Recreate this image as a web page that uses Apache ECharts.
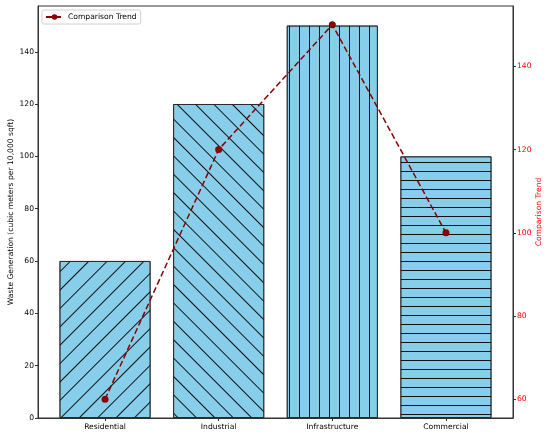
<!DOCTYPE html>
<html>
<head>
<meta charset="utf-8">
<script src="https://cdn.jsdelivr.net/npm/echarts@6/dist/echarts.min.js"></script>
<style>
  html, body { margin: 0; padding: 0; background: #fff; }
  #chart { width: 550px; height: 438px; }
</style>
</head>
<body>
<div id="chart"></div>
<script>
const categories = ['Residential', 'Industrial', 'Infrastructure', 'Commercial'];
const wasteValues = [60, 120, 150, 100];
const trendValues = [60, 120, 150, 100];
const leftTicks = [0, 20, 40, 60, 80, 100, 120, 140];
const rightTicks = [60, 80, 100, 120, 140];
const catPositions = [0, 1, 2, 3];

// hatch styles, one per bar (matplotlib-ish: '/', '\\', '|', '-')
function hatch(rot, gap) {
  return {
    symbol: 'rect', symbolSize: 1, color: '#111',
    dashArrayX: [1, 0], dashArrayY: [1, gap], rotation: rot
  };
}
const hatches = [
  hatch(-Math.PI / 4, 12),
  hatch(Math.PI / 4, 12),
  hatch(Math.PI / 2, 8.2),
  hatch(0, 8)
];

const font = 'DejaVu Sans';
const axisColor = '#333';

let myChart = echarts.init(document.getElementById('chart'), null, { renderer: 'canvas' });
let option = {
  animation: false,
  textStyle: { fontFamily: font },
  grid: {
    left: 38, right: 37, top: 6, bottom: 20,
    outerBoundsMode: 'none', containLabel: false,
    show: true, borderColor: axisColor, borderWidth: 1, backgroundColor: 'transparent'
  },
  legend: {
    left: 42, top: 10,
    data: ['Comparison Trend'],
    borderColor: '#d0d0d0', borderWidth: 1, borderRadius: 2,
    padding: [3, 4, 3, 3],
    itemWidth: 17, itemHeight: 7, itemGap: 4,
    textStyle: { fontFamily: font, fontSize: 7.6, color: '#000' }
  },
  xAxis: {
    type: 'value', min: -0.59, max: 3.59,
    splitLine: { show: false },
    axisLine: { show: true, onZero: false, lineStyle: { color: axisColor, width: 1 } },
    axisTick: { show: true, length: 3, customValues: catPositions, lineStyle: { color: axisColor } },
    axisLabel: {
      customValues: catPositions,
      formatter: v => categories[Math.round(v)],
      fontFamily: font, fontSize: 7.6, color: '#000', margin: 5
    }
  },
  yAxis: [
    {
      type: 'value', min: 0, max: 157.5, position: 'left',
      name: 'Waste Generation (cubic meters per 10,000 sqft)',
      nameLocation: 'middle', nameRotate: 90, nameGap: 23, nameMoveOverlap: false,
      nameTextStyle: { fontFamily: font, fontSize: 7.6, color: '#000' },
      splitLine: { show: false },
      axisLine: { show: true, onZero: false, lineStyle: { color: axisColor, width: 1 } },
      axisTick: { show: true, length: 3, customValues: leftTicks, lineStyle: { color: axisColor } },
      axisLabel: { customValues: leftTicks, fontFamily: font, fontSize: 7.6, color: '#000', margin: 4 }
    },
    {
      type: 'value', min: 55.5, max: 154.5, position: 'right',
      name: 'Comparison Trend',
      nameLocation: 'middle', nameRotate: 90, nameGap: 22, nameMoveOverlap: false,
      nameTextStyle: { fontFamily: font, fontSize: 7.6, color: 'red' },
      splitLine: { show: false },
      axisLine: { show: true, onZero: false, lineStyle: { color: axisColor, width: 1 } },
      axisTick: { show: true, length: 3, customValues: rightTicks, lineStyle: { color: axisColor } },
      axisLabel: { customValues: rightTicks, fontFamily: font, fontSize: 7.6, color: 'red', margin: 4 }
    }
  ],
  series: [
    {
      name: 'Waste',
      type: 'bar',
      yAxisIndex: 0,
      barWidth: 91,
      data: wasteValues.map((v, i) => ({
        value: [catPositions[i], v],
        itemStyle: { color: '#87CEEB', borderColor: '#222', borderWidth: 0.8, decal: hatches[i] }
      }))
    },
    {
      name: 'Comparison Trend',
      type: 'line',
      yAxisIndex: 1,
      z: 5,
      symbol: 'circle',
      symbolSize: 7,
      itemStyle: { color: '#8B0000' },
      lineStyle: { color: '#8B0000', width: 1.5, type: [6, 3] },
      data: trendValues.map((v, i) => [catPositions[i], v])
    }
  ]
};
option && myChart.setOption(option);
</script>
</body>
</html>
